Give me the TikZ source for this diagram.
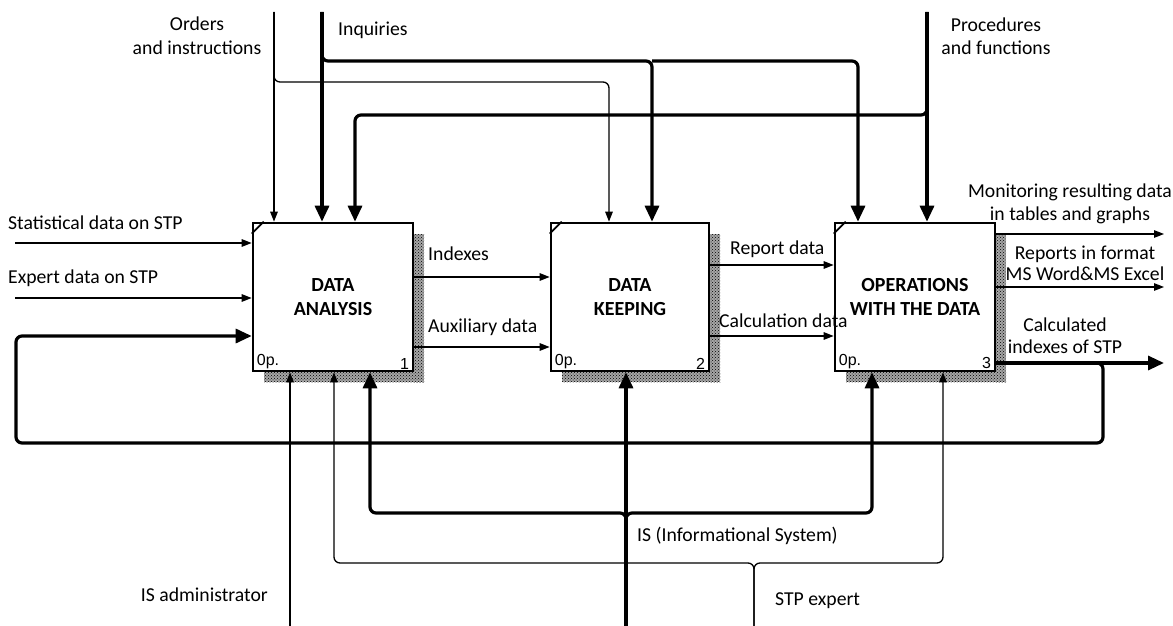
\documentclass[tikz,border=0pt]{standalone}
\usepackage{fontspec}
\setmainfont{Carlito}
\newfontfamily\numfont{Liberation Sans}
\usetikzlibrary{arrows.meta,patterns,calc}
\begin{document}
\begin{tikzpicture}[x=1pt,y=-1pt,
  box/.style={draw, line width=2.6pt, fill=white, minimum height=148pt, inner sep=0pt,
    align=center, font=\bfseries\fontsize{20}{24}\selectfont},
  thinln/.style={line width=1.3pt},
  thickln/.style={line width=3.2pt},
  ta/.style={-{Triangle[length=10pt,width=7.5pt]}},
  Ta/.style={-{Triangle[length=16pt,width=14pt]}},
  lbl/.style={inner sep=0pt, font=\fontsize{19.7}{23}\selectfont},
  num/.style={inner sep=0pt, font=\numfont\fontsize{16}{17}\selectfont},
  shade/.style={fill=black!35, postaction={pattern=crosshatch dots, pattern color=black}},
  rc/.style={rounded corners=6pt}]
\useasboundingbox (0,0) rectangle (1173,626);

% shadows
\foreach \cx/\w in {333/160, 630/158, 915/160}{
  \fill[shade] (\cx+\w/2+1,234) rectangle (\cx+\w/2+11,382);
  \fill[shade] (\cx-\w/2+11,372) rectangle (\cx+\w/2+11,382);
}

% boxes
\node[box, minimum width=160pt] (b1) at (333,297) {DATA\\ANALYSIS};
\node[box, minimum width=158pt] (b2) at (630,297) {DATA\\KEEPING};
\node[box, minimum width=160pt] (b3) at (915,297) {OPERATIONS\\WITH THE DATA};

\foreach \b/\n in {b1/1, b2/2, b3/3}{
  \draw[line width=1.8pt] ($(\b.north west)+(0,12)$) -- ($(\b.north west)+(12,0)$);
  \node[num, anchor=south west] at ($(\b.south west)+(5,-3)$) {0p.};
  \node[num, anchor=south east] at ($(\b.south east)+(-5,-3)$) {\n};
}

% free ends and routing points
\coordinate (ordT) at (274,12);
\coordinate (ordJ) at (274,82);
\coordinate (ordK) at (609,82);
\coordinate (inqT) at (322,12);
\coordinate (inqJ) at (322,61);
\coordinate (inqK) at (652,61);
\coordinate (inqM) at (858,61);
\coordinate (procT) at (927,12);
\coordinate (procJ) at (927,115);
\coordinate (procK) at (355,115);
\coordinate (statL) at (15,243);
\coordinate (expL) at (15,298);
\coordinate (monR) at (1164,234);
\coordinate (repR) at (1164,287);
\coordinate (calR) at (1164,363);
\coordinate (loopA) at (1103,363);
\coordinate (loopB) at (1103,443);
\coordinate (loopC) at (16,443);
\coordinate (loopD) at (16,336);
\coordinate (admB) at (290,626);
\coordinate (isB) at (626,626);
\coordinate (isJ) at (626,513);
\coordinate (isL) at (370,513);
\coordinate (isR) at (872,513);
\coordinate (stpB) at (754,626);
\coordinate (stpJ) at (754,563);
\coordinate (stpL) at (334,563);
\coordinate (stpR) at (943,563);

% controls (top)
\draw[thinln,ta] (ordT) -- (ordT |- b1.north);
\draw[thinln,ta,rc] (ordT) -- (ordJ) -- (ordK) -- (ordK |- b2.north);
\draw[thickln,Ta] (inqT) -- (inqT |- b1.north);
\draw[thickln,Ta,rc] (inqT) -- (inqJ) -- (inqK) -- (inqK |- b2.north);
\draw[thickln,Ta,rc] (inqK) -- (inqM) -- (inqM |- b3.north);
\draw[thickln,Ta] (procT) -- (procT |- b3.north);
\draw[thickln,Ta,rc] (procT) -- (procJ) -- (procK) -- (procK |- b1.north);

% inputs
\draw[thinln,ta] (statL) -- (statL -| b1.west);
\draw[thinln,ta] (expL) -- (expL -| b1.west);
\draw[thinln,ta] (b1.east |- 0,277) -- (b2.west |- 0,277);
\draw[thinln,ta] (b1.east |- 0,347) -- (b2.west |- 0,347);
\draw[thinln,ta] (b2.east |- 0,265) -- (b3.west |- 0,265);
\draw[thinln,ta] (b2.east |- 0,336) -- (b3.west |- 0,336);

% outputs
\draw[thinln,ta] (monR -| b3.east) -- (monR);
\draw[thinln,ta] (repR -| b3.east) -- (repR);
\draw[thickln,Ta] (calR -| b3.east) -- (calR);
\draw[thickln,Ta,rc] (calR -| b3.east) -- (loopA) -- (loopB) -- (loopC) -- (loopD) -- (loopD -| b1.west);

% mechanisms (bottom)
\draw[thinln,ta] (admB) -- (admB |- b1.south);
\draw[thickln,Ta] (isB) -- (isB |- b2.south);
\draw[thickln,Ta,rc] (isB) -- (isJ) -- (isL) -- (isL |- b1.south);
\draw[thickln,Ta,rc] (isB) -- (isJ) -- (isR) -- (isR |- b3.south);
\draw[thinln,ta,rc] (stpB) -- (stpJ) -- (stpL) -- (stpL |- b1.south);
\draw[thinln,ta,rc] (stpB) -- (stpJ) -- (stpR) -- (stpR |- b3.south);

% labels
\node[lbl, align=center, font=\fontsize{19.7}{24}\selectfont] (tOrd) at (197,36) {Orders\\and instructions};
\node[lbl, anchor=west] (tInq) at (338,30) {Inquiries};
\node[lbl, align=center] (tProc) at (996,36) {Procedures\\and functions};
\node[lbl, anchor=west] (tStat) at (8,223) {Statistical data on STP};
\node[lbl, anchor=west] (tExp) at (8,278) {Expert data on STP};
\node[lbl, anchor=west] (tIdx) at (428,254) {Indexes};
\node[lbl, anchor=west] (tAux) at (428,327) {Auxiliary data};
\node[lbl, anchor=west] (tRep) at (730,249) {Report data};
\node[lbl, anchor=west] (tCalc) at (719,321) {Calculation data};
\node[lbl, align=center] (tMon) at (1070,204) {Monitoring resulting data\\in tables and graphs};
\node[lbl, align=center, font=\fontsize{19.7}{21}\selectfont] (tRpt) at (1085,263) {Reports in format\\MS Word\&MS Excel};
\node[lbl, align=center, font=\fontsize{19.7}{22}\selectfont] (tCi) at (1065,336) {Calculated\\indexes of STP};
\node[lbl, anchor=west] (tIS) at (637,536) {IS (Informational System)};
\node[lbl, anchor=west] (tStp) at (775,601) {STP expert};
\node[lbl, anchor=east] (tAdm) at (268,595) {IS administrator};
\end{tikzpicture}
\end{document}
